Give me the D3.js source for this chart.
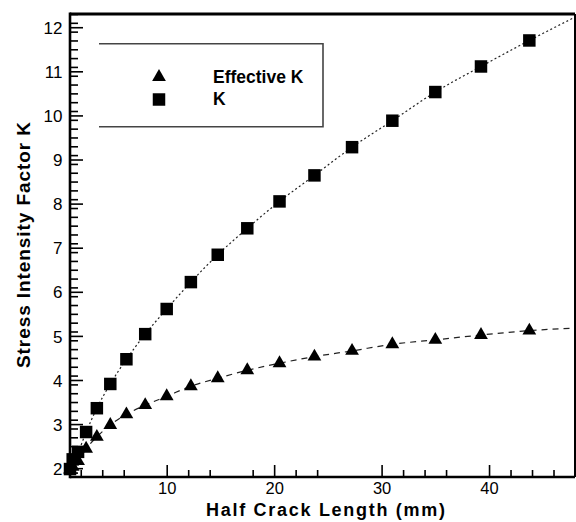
<!DOCTYPE html>
<html>
<head>
<meta charset="utf-8">
<script src="https://cdn.jsdelivr.net/npm/d3@7"></script>
<style>
  html, body { margin: 0; padding: 0; background: #fff; }
  svg { display: block; }
  text { font-family: "Liberation Sans", Arial, Helvetica, sans-serif; fill: #000; }
</style>
</head>
<body>
<script>
// Half crack length (mm) at each computed point; the last entry only extends the curves past the frame
const crackLength = [1, 1.25, 1.75, 2.5, 3.5, 4.75, 6.25, 8, 10, 12.25, 14.75, 17.5, 20.5, 23.75, 27.25, 31, 35, 39.25, 43.75, 48.5];
// Stress intensity factor K
const kValues = [1.98, 2.2, 2.37, 2.82, 3.36, 3.91, 4.47, 5.04, 5.61, 6.22, 6.84, 7.44, 8.05, 8.64, 9.28, 9.88, 10.53, 11.11, 11.70, 12.29];
// Effective K
const effectiveK = [1.97, 2.03, 2.16, 2.44, 2.71, 2.98, 3.22, 3.43, 3.63, 3.86, 4.04, 4.22, 4.38, 4.53, 4.66, 4.81, 4.91, 5.02, 5.12, 5.18];

const seriesNames = ["Effective K", "K"];
const xMajorTicks = [10, 20, 30, 40];
const xMinorTicks = [2, 4, 6, 12, 14, 18, 22, 24, 32, 34, 36, 42, 44, 46, 48];
const yMajorTicks = [2, 3, 4, 5, 6, 7, 8, 9, 10, 11, 12];
const yMinorTicks = d3.range(19, 124, 2).map(v => v / 10).filter(v => Math.abs(v - Math.round(v)) > 1e-6);

const W = 576, H = 522;
const plot = { left: 70, right: 575, top: 14, bottom: 477 };

const x = d3.scaleLinear().domain([1, 48]).range([plot.left, plot.right]);
const y = d3.scaleLinear().domain([1.8, 12.3]).range([plot.bottom, plot.top]);

const svg = d3.select("body").append("svg").attr("width", W).attr("height", H);

svg.append("defs").append("clipPath").attr("id", "plot-clip")
  .append("rect")
  .attr("x", plot.left).attr("y", plot.top)
  .attr("width", plot.right - plot.left).attr("height", plot.bottom - plot.top);

// Connecting curves
const rowsK = crackLength.map((a, i) => [a, kValues[i]]);
const rowsEff = crackLength.map((a, i) => [a, effectiveK[i]]);
const line = d3.line().x(d => x(d[0])).y(d => y(d[1])).curve(d3.curveMonotoneX);

const curves = svg.append("g").attr("clip-path", "url(#plot-clip)");
curves.append("path").datum(rowsK)
  .attr("d", line).attr("fill", "none")
  .attr("stroke", "#222").attr("stroke-width", 1.2).attr("stroke-dasharray", "2,2.5");
curves.append("path").datum(rowsEff)
  .attr("d", line).attr("fill", "none")
  .attr("stroke", "#222").attr("stroke-width", 1.2).attr("stroke-dasharray", "6,5");

// Markers (only those inside the axis range)
const inRange = d => d[0] <= x.domain()[1];
const square = d3.symbol().type(d3.symbolSquare).size(156);
const triangle = d3.symbol().type(d3.symbolTriangle).size(82);

svg.append("g").selectAll("path").data(rowsK.filter(inRange)).join("path")
  .attr("transform", d => `translate(${x(d[0])},${y(d[1])})`)
  .attr("d", square).attr("fill", "#000");
svg.append("g").selectAll("path").data(rowsEff.filter(inRange)).join("path")
  .attr("transform", d => `translate(${x(d[0])},${y(d[1])})`)
  .attr("d", triangle).attr("fill", "#000");

// Frame: top and right borders
svg.append("line").attr("x1", plot.left).attr("x2", plot.right).attr("y1", plot.top).attr("y2", plot.top)
  .attr("stroke", "#000").attr("stroke-width", 3);
svg.append("line").attr("x1", plot.right).attr("x2", plot.right).attr("y1", plot.top).attr("y2", plot.bottom)
  .attr("stroke", "#000").attr("stroke-width", 2);

// Bottom axis with inward ticks
const xAxisMajor = d3.axisBottom(x).tickValues(xMajorTicks).tickSize(-12).tickPadding(16).tickFormat(d3.format("d"));
const xAxisMinor = d3.axisBottom(x).tickValues(xMinorTicks).tickSize(-7).tickFormat("");
const gxMinor = svg.append("g").attr("transform", `translate(0,${plot.bottom})`).call(xAxisMinor);
const gx = svg.append("g").attr("transform", `translate(0,${plot.bottom})`).call(xAxisMajor);
[gx, gxMinor].forEach(g => {
  g.select(".domain").remove();
  g.selectAll(".tick line").attr("stroke", "#000").attr("stroke-width", 1.6);
});
gx.selectAll(".tick text").attr("font-size", 16.5).attr("dy", 0).attr("y", 17);

// Left axis with inward ticks
const yAxisMajor = d3.axisLeft(y).tickValues(yMajorTicks).tickSize(-13).tickPadding(8).tickFormat(d3.format("d"));
const yAxisMinor = d3.axisLeft(y).tickValues(yMinorTicks).tickSize(-8).tickFormat("");
const gyMinor = svg.append("g").attr("transform", `translate(${plot.left},0)`).call(yAxisMinor);
const gy = svg.append("g").attr("transform", `translate(${plot.left},0)`).call(yAxisMajor);
[gy, gyMinor].forEach(g => {
  g.select(".domain").remove();
  g.selectAll(".tick line").attr("stroke", "#000").attr("stroke-width", 1.6);
});
gy.selectAll(".tick text").attr("font-size", 17).attr("x", -7.5).attr("dy", "0.36em");

// Axis lines
svg.append("line").attr("x1", plot.left).attr("x2", plot.right).attr("y1", plot.bottom).attr("y2", plot.bottom)
  .attr("stroke", "#000").attr("stroke-width", 2.6);
svg.append("line").attr("x1", plot.left).attr("x2", plot.left).attr("y1", plot.top - 1.5).attr("y2", plot.bottom + 1.3)
  .attr("stroke", "#000").attr("stroke-width", 2.6);

// Axis titles
svg.append("text")
  .attr("x", 325.5).attr("y", 516)
  .attr("text-anchor", "middle")
  .attr("font-size", 18).attr("font-weight", "bold")
  .attr("textLength", 239).attr("lengthAdjust", "spacing")
  .text("Half Crack Length (mm)");
svg.append("text")
  .attr("transform", "translate(30,245) rotate(-90)")
  .attr("text-anchor", "middle")
  .attr("font-size", 19).attr("font-weight", "bold")
  .attr("textLength", 246).attr("lengthAdjust", "spacing")
  .text("Stress Intensity Factor K");

// Legend box (open on the left side)
const legend = svg.append("g");
legend.append("path")
  .attr("d", d3.line()([[99, 43.8], [323, 43.8], [323, 126.8], [99, 126.8]]))
  .attr("fill", "none").attr("stroke", "#444").attr("stroke-width", 1.6);
const legendItems = [
  { name: seriesNames[0], sym: triangle, cy: 77, ty: 83.3 },
  { name: seriesNames[1], sym: square, cy: 99.5, ty: 105 }
];
legendItems.forEach(it => {
  legend.append("path").attr("transform", `translate(159,${it.cy})`).attr("d", it.sym).attr("fill", "#000");
  legend.append("text").attr("x", 213).attr("y", it.ty)
    .attr("font-size", 17.5).attr("font-weight", "bold").text(it.name);
});
</script>
</body>
</html>
